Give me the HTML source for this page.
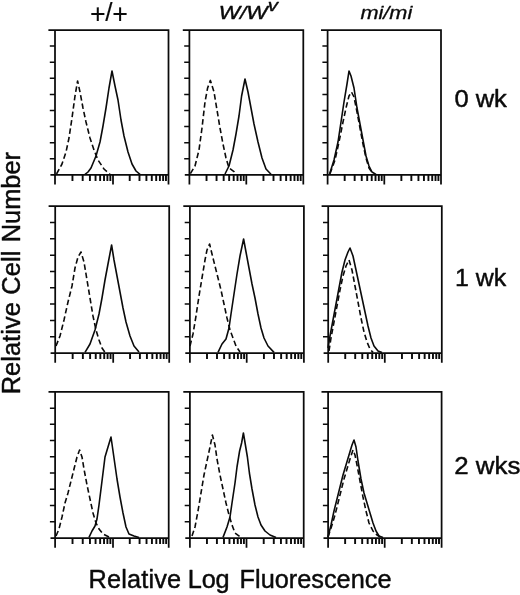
<!DOCTYPE html>
<html lang="en">
<head>
<meta charset="utf-8">
<title>Relative Log Fluorescence</title>
<style>
html,body{margin:0;padding:0;background:#fff;}
body{width:520px;height:595px;overflow:hidden;position:relative;font-family:"Liberation Sans",sans-serif;color:#0a0a0a;}
svg{position:absolute;left:0;top:0;display:block;}
.ax{fill:none;stroke:#0b0b0b;stroke-width:1.75;stroke-linecap:butt;}
.tk{fill:none;stroke:#0b0b0b;stroke-width:1.5;stroke-linecap:butt;}
.tx{fill:none;stroke:#0b0b0b;stroke-width:1.9;stroke-linecap:butt;}
.so{fill:none;stroke:#0b0b0b;stroke-width:1.6;stroke-linejoin:round;}
.da{fill:none;stroke:#0b0b0b;stroke-width:1.6;stroke-dasharray:5.5 3;stroke-linejoin:round;}
text{font-family:"Liberation Sans",sans-serif;fill:#0a0a0a;stroke:#0a0a0a;stroke-linejoin:round;}
svg>text{stroke-width:0.45;}
svg>text.it{font-style:italic;stroke-width:0.3;}
svg>text#t_ww{stroke-width:0.42;}
svg>text#t_plus{stroke-width:0.12;}
</style>
</head>
<body>
<svg width="520" height="595" viewBox="0 0 520 595">
<rect width="520" height="595" fill="#fff"/>
<g><path class="ax" d="M48.4 30H168.5V184.6M50.4 174.9H168.5M55 30V184.6M113 174.9V184.6"/><path class="tk" d="M49.8 46.1H55M49.8 62.2H55M49.8 78.3H55M49.8 94.4H55M49.8 110.5H55M49.8 126.6H55M49.8 142.7H55M49.8 158.8H55"/><path class="tx" d="M72.46 174.9V180.9M82.67 174.9V180.9M89.92 174.9V180.9M95.54 174.9V180.9M100.13 174.9V180.9M104.02 174.9V180.9M107.38 174.9V180.9M110.35 174.9V180.9M129.71 174.9V180.9M139.48 174.9V180.9M146.41 174.9V180.9M151.79 174.9V180.9M156.19 174.9V180.9M159.9 174.9V180.9M163.12 174.9V180.9M165.96 174.9V180.9"/><polyline class="so" points="85,174.4 88,172 91,168 96,156 100,142 103,126 106,108 109,88 112,71 115,86 118,100 121,120 124,136 128,152 132,164 136,171 140,174.4"/><polyline class="da" points="56.5,174 62,164 66,152 69,138 72,118 75,96 77.6,81 80,92 83,108 86,122 90,138 94,150 98,160 104,169 110,174.4"/></g>
<g><path class="ax" d="M182.8 30H303.3V184.6M184.8 174.9H303.3M189.4 30V184.6M246.3 174.9V184.6"/><path class="tk" d="M184.2 46.1H189.4M184.2 62.2H189.4M184.2 78.3H189.4M184.2 94.4H189.4M184.2 110.5H189.4M184.2 126.6H189.4M184.2 142.7H189.4M184.2 158.8H189.4"/><path class="tx" d="M206.53 174.9V180.9M216.55 174.9V180.9M223.66 174.9V180.9M229.17 174.9V180.9M233.68 174.9V180.9M237.49 174.9V180.9M240.79 174.9V180.9M243.7 174.9V180.9M263.46 174.9V180.9M273.5 174.9V180.9M280.62 174.9V180.9M286.14 174.9V180.9M290.65 174.9V180.9M294.47 174.9V180.9M297.78 174.9V180.9M300.69 174.9V180.9"/><polyline class="so" points="225,174 229,166 233,150 236,134 239,116 241.6,96 245,79 248,92 251,108 254,124 258,142 262,158 266,169 271,174.2"/><polyline class="da" points="190.4,173.6 195,166 199,150 202,128 205,102 207.6,88 210.4,80.4 214,92 217,110 220,128 223,144 226,158 229,168 234,171.6 236,174"/></g>
<g><path class="ax" d="M321 30H441V184.6M323 174.9H441M327.6 30V184.6M384.3 174.9V184.6"/><path class="tk" d="M322.4 46.1H327.6M322.4 62.2H327.6M322.4 78.3H327.6M322.4 94.4H327.6M322.4 110.5H327.6M322.4 126.6H327.6M322.4 142.7H327.6M322.4 158.8H327.6"/><path class="tx" d="M344.67 174.9V180.9M354.65 174.9V180.9M361.74 174.9V180.9M367.23 174.9V180.9M371.72 174.9V180.9M375.52 174.9V180.9M378.81 174.9V180.9M381.71 174.9V180.9M401.37 174.9V180.9M411.35 174.9V180.9M418.44 174.9V180.9M423.93 174.9V180.9M428.42 174.9V180.9M432.22 174.9V180.9M435.51 174.9V180.9M438.41 174.9V180.9"/><polyline class="so" points="329.6,174 334,160 338,142 341,122 344,102 347,84 349,71 351,76 354,88 357,108 360,124 363,140 366,156 369,166 372,172 376,174.4"/><polyline class="da" points="330,173.6 335,160 339,142 343,122 346,108 349,96 351.5,92 354,97 357,112 360,128 363,144 366,158 369,168 373,174"/></g>
<g><path class="ax" d="M48.6 206.2H169.2V362.7M50.6 353H169.2M55.2 206.2V362.7M113.2 353V362.7"/><path class="tk" d="M50 222.51H55.2M50 238.82H55.2M50 255.13H55.2M50 271.44H55.2M50 287.76H55.2M50 304.07H55.2M50 320.38H55.2M50 336.69H55.2"/><path class="tx" d="M72.66 353V359M82.87 353V359M90.12 353V359M95.74 353V359M100.33 353V359M104.22 353V359M107.58 353V359M110.55 353V359M130.06 353V359M139.92 353V359M146.92 353V359M152.34 353V359M156.78 353V359M160.53 353V359M163.77 353V359M166.64 353V359"/><polyline class="so" points="85,352.4 90,344 95,330 99,314 102,298 105,280 108,264 111.6,245 114,260 117,276 120,292 123,308 126,322 130,336 134,346 139,352"/><polyline class="da" points="56,346 60,336 64,320 68,302 72,286 75,268 78,257 81,252 84,262 87,280 90,298 93,316 96,330 99,340 102,348 105,352.4"/></g>
<g><path class="ax" d="M183.3 206.2H303.9V362.7M185.3 353H303.9M189.9 206.2V362.7M246.7 353V362.7"/><path class="tk" d="M184.7 222.51H189.9M184.7 238.82H189.9M184.7 255.13H189.9M184.7 271.44H189.9M184.7 287.76H189.9M184.7 304.07H189.9M184.7 320.38H189.9M184.7 336.69H189.9"/><path class="tx" d="M207 353V359M217 353V359M224.1 353V359M229.6 353V359M234.1 353V359M237.9 353V359M241.2 353V359M244.1 353V359M263.92 353V359M273.99 353V359M281.14 353V359M286.68 353V359M291.21 353V359M295.04 353V359M298.36 353V359M301.28 353V359"/><polyline class="so" points="218,352.4 222,344 226,339 229,328 231,314 234,294 237,274 240,256 243.6,239 246,252 249,268 252,284 255,298 258,314 261,328 264,338 268,346 274,352.4"/><polyline class="da" points="190,346 193,334 196,316 199,296 202,278 205,260 207,250 209.6,244 212,254 215,266 218,278 221,290 224,304 227,318 230,330 233,338 236,346 240,352"/></g>
<g><path class="ax" d="M321.6 206.2H441.8V362.7M323.6 353H441.8M328.2 206.2V362.7M384.8 353V362.7"/><path class="tk" d="M323 222.51H328.2M323 238.82H328.2M323 255.13H328.2M323 271.44H328.2M323 287.76H328.2M323 304.07H328.2M323 320.38H328.2M323 336.69H328.2"/><path class="tx" d="M345.24 353V359M355.21 353V359M362.28 353V359M367.76 353V359M372.24 353V359M376.03 353V359M379.31 353V359M382.21 353V359M401.96 353V359M412 353V359M419.12 353V359M424.64 353V359M429.15 353V359M432.97 353V359M436.28 353V359M439.19 353V359"/><polyline class="so" points="328,348 330,336 333,320 336,304 339,288 342,272 345,260 348,252 350,248 353,256 356,270 359,284 362,298 365,312 368,326 371,338 374,346 378,351 382,352.6"/><polyline class="da" points="329,351 331,338 334,322 337,306 340,290 343,276 346,266 349,260 352,270 355,286 358,302 361,318 364,332 367,342 370,349 373,352.4"/></g>
<g><path class="ax" d="M48.5 391.9H168.7V547.7M50.5 538H168.7M55.1 391.9V547.7M113 538V547.7"/><path class="tk" d="M49.9 408.13H55.1M49.9 424.37H55.1M49.9 440.6H55.1M49.9 456.83H55.1M49.9 473.07H55.1M49.9 489.3H55.1M49.9 505.53H55.1M49.9 521.77H55.1"/><path class="tx" d="M72.53 538V544M82.73 538V544M89.96 538V544M95.57 538V544M100.15 538V544M104.03 538V544M107.39 538V544M110.35 538V544M129.77 538V544M139.58 538V544M146.53 538V544M151.93 538V544M156.34 538V544M160.07 538V544M163.3 538V544M166.15 538V544"/><polyline class="so" points="89,537.4 92,531 95,526 97,519 99,505 101,489 103,473 105,457 108,447 111,437 113,451 115,465 117,479 120,497 123,513 126,527 129,534 134,536 139,537.6"/><polyline class="da" points="56,536 59,529 62,517 65,503 68,493 71,481 74,469 77,457 79.6,450 82,457 84,469 87,485 90,499 93,513 96,523 99,529 103,534 110,537.4"/></g>
<g><path class="ax" d="M183.3 391.9H303.7V547.7M185.3 538H303.7M189.9 391.9V547.7M246.5 538V547.7"/><path class="tk" d="M184.7 408.13H189.9M184.7 424.37H189.9M184.7 440.6H189.9M184.7 456.83H189.9M184.7 473.07H189.9M184.7 489.3H189.9M184.7 505.53H189.9M184.7 521.77H189.9"/><path class="tx" d="M206.94 538V544M216.91 538V544M223.98 538V544M229.46 538V544M233.94 538V544M237.73 538V544M241.01 538V544M243.91 538V544M263.72 538V544M273.79 538V544M280.94 538V544M286.48 538V544M291.01 538V544M294.84 538V544M298.16 538V544M301.08 538V544"/><polyline class="so" points="223,537.4 227,527 230,517 232,503 235,483 237,467 239.6,451 241.6,443 243.4,433 245.4,445 247.4,457 249.4,473 252,489 255,505 258,517 261,525 265,531 270,535 276,537.4"/><polyline class="da" points="192,536 195,527 198,511 201,493 204,475 207,461 210,447 212.4,435 215,445 217,459 220,475 223,489 226,503 229,515 232,525 235,533 241,537.4"/></g>
<g><path class="ax" d="M321.5 391.9H441.6V547.7M323.5 538H441.6M328.1 391.9V547.7M384.7 538V547.7"/><path class="tk" d="M322.9 408.13H328.1M322.9 424.37H328.1M322.9 440.6H328.1M322.9 456.83H328.1M322.9 473.07H328.1M322.9 489.3H328.1M322.9 505.53H328.1M322.9 521.77H328.1"/><path class="tx" d="M345.14 538V544M355.11 538V544M362.18 538V544M367.66 538V544M372.14 538V544M375.93 538V544M379.21 538V544M382.11 538V544M401.83 538V544M411.85 538V544M418.96 538V544M424.47 538V544M428.98 538V544M432.79 538V544M436.09 538V544M439 538V544"/><polyline class="so" points="328,537 331,525 334,511 337,499 340,487 343,475 346,465 349,455 352,445 354,440 356,447 358,461 361,479 364,493 367,503 370,513 373,523 376,531 379,536 383,537.4"/><polyline class="da" points="328,537 332,525 335,515 338,503 341,491 344,479 347,469 350,459 353,450 355,455 357,465 360,481 363,497 366,511 369,523 373,531 377,535 381,537.4"/></g>
<!--TEXT-->
<text id="t_plus" x="89.9" y="22.7" font-size="26.8">+<tspan x="105.3" y="20.8" font-size="26.2">/</tspan><tspan x="112.3" y="22.7" font-size="26.8">+</tspan></text>
<text id="t_ww" class="it" transform="translate(218.7 19.2) scale(1.212 1)" font-size="18.7">W/W<tspan dy="-8.1" font-size="17">v</tspan></text>
<text id="t_mi" class="it" transform="translate(360.4 19.2) scale(1.163 1)" font-size="18.7">mi/mi</text>
<text id="t_0" transform="translate(454.4 107) scale(1.046 1)" font-size="24.4">0 wk</text>
<text id="t_1" transform="translate(455 286) scale(1.022 1)" font-size="24.4">1 wk</text>
<text id="t_2" transform="translate(454.3 473.8) scale(1.06 1)" font-size="24.4">2 wks</text>
<text id="t_x" x="88.6" y="587.7" font-size="25.3"><tspan letter-spacing="0.17">Relative </tspan><tspan x="187.8" letter-spacing="-0.2">Log </tspan><tspan x="239.6">Fluorescence</tspan></text>
<text id="t_y" transform="translate(19.6 394.3) rotate(-90)" font-size="25.4"><tspan x="0" letter-spacing="0.05">Relative </tspan><tspan x="99.6" letter-spacing="0.16">Cell </tspan><tspan x="152">Number</tspan></text>
</svg>
</body>
</html>
